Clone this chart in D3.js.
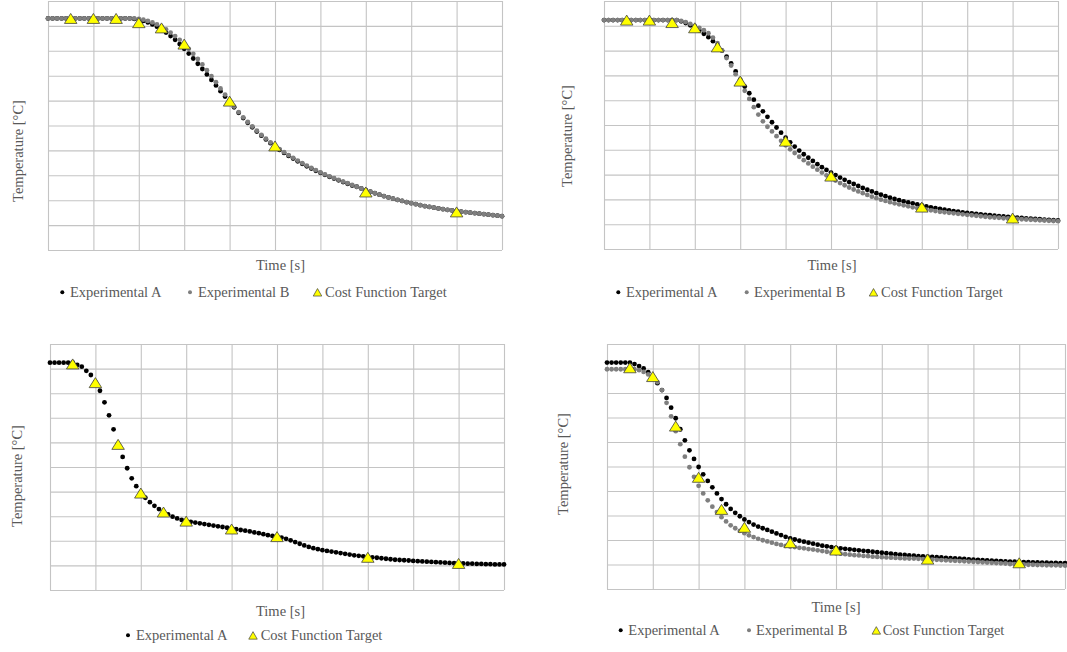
<!DOCTYPE html>
<html>
<head>
<meta charset="utf-8">
<script src="https://cdn.jsdelivr.net/npm/d3@7"></script>
<style>
  body { margin: 0; background: #fff; }
  svg { display: block; }
</style>
</head>
<body>
<svg id="chart" width="1067" height="652"></svg>
<script>
// Sample times (s) of the logged temperatures and of the cost-function targets
const sampleTimes = d3.range(0, 101);
const targetTimes = [5, 10, 15, 20, 25, 30, 40, 50, 70, 90];

// Run 1
const run1A = [930,930,930,930,930,930,930,930,930,930,930,930,930,930,930,930,930,930,930,928,
  925,920,914,906,897,886,873,859,844,827,
  808,789,769,748,727,705,683,661,638,616,
  595,573,551,530,511,493,476,459,444,429,
  415,402,390,378,367,356,346,336,327,318,
  310,302,294,287,280,273,266,259,254,247,
  240,234,228,222,216,211,206,201,197,192,
  188,184,180,176,173,170,167,164,161,159,
  157,154,152,150,148,146,144,142,140,138,136];
const run1B = [930,930,930,930,930,930,930,930,930,930,930,930,930,930,930,930,930,930,930,930,
  928,925,920,914,906,897,886,873,859,844,
  827,808,788,767,745,722,698,674,649,624,
  599,576,554,533,514,496,479,462,447,432,
  418,405,393,381,370,359,349,339,330,321,
  312,304,296,289,282,275,268,261,254,247,
  240,234,228,222,216,211,206,201,197,192,
  188,184,180,176,173,170,167,164,161,159,
  157,154,152,150,148,146,144,142,140,138,136];
const run1Target = [930, 930, 930, 913, 892, 827, 598, 418, 233, 153];

// Run 2
const run2A = [923,923,923,923,923,923,923,923,923,923,923,923,923,923,923,923,923,918,911,902,
  892,881,868,854,838,820,800,776,748,716,
  683,655,628,602,578,555,533,511,490,469,
  449,430,413,397,382,368,355,342,330,319,
  308,298,288,279,270,262,254,246,239,232,
  225,219,213,207,202,197,192,188,184,180,
  176,172,168,165,162,159,156,153,151,148,
  146,144,142,140,138,136,134,132,131,129,
  128,126,125,123,122,121,120,118,117,116,115];
const run2B = [923,923,923,923,923,923,923,923,923,923,923,923,923,923,923,923,923,920,915,908,
  900,892,882,870,852,830,800,770,740,705,
  670,638,605,572,542,515,493,474,455,436,
  418,402,387,372,358,345,332,320,308,297,
  286,276,266,257,248,240,232,225,218,211,
  205,199,194,189,184,180,176,172,168,165,
  162,159,156,153,150,148,146,144,142,140,
  138,136,134,132,130,128,127,126,124,123,
  122,121,120,119,118,117,116,115,114,113,112];
const run2Target = [923, 923, 913, 892, 815, 677, 435, 294, 169, 125];

// Run 3 (single measurement)
const run3A = [924,924,924,924,924,924,915,908,891,874,
  845,810,763,710,653,593,541,495,454,422,
  396,375,357,342,329,317,307,298,291,285,
  280,277,274,271,268,265,262,259,256,253,
  250,247,244,241,238,234,231,227,223,220,
  217,213,208,202,195,188,181,175,170,166,
  162,159,156,153,150,147,144,141,139,137,
  135,133,131,129,127,125,123,122,121,120,
  118,117,116,115,114,113,112,111,110,109,
  108,108,107,107,106,106,105,105,104,104,104];
const run3Target = [919, 843, 592, 394, 317, 280, 248, 217, 133, 108];

// Run 4
const run4A = [924,924,924,924,924,924,918,910,900,885,
  865,840,812,780,740,697,652,607,566,531,
  498,468,441,415,390,367,346,327,311,297,
  284,273,263,255,248,241,234,227,220,213,
  207,202,197,193,189,185,181,177,174,171,
  168,166,164,162,160,158,156,154,152,150,
  148,146,144,142,140,139,137,136,134,133,
  132,131,130,129,127,126,125,124,123,121,
  120,119,118,117,116,115,114,113,112,112,
  111,110,110,109,109,108,108,107,107,106,106];
const run4B = [897,897,897,897,897,897,897,893,886,876,
  862,844,812,760,705,644,591,540,497,458,
  421,390,362,336,314,293,276,260,248,237,
  228,219,212,205,199,194,189,184,180,176,
  173,171,168,166,163,161,158,155,152,149,
  146,144,142,140,138,137,135,134,132,131,
  130,129,128,127,126,125,124,124,123,122,
  121,120,119,118,117,116,115,114,113,112,
  111,110,109,108,107,106,105,104,102,101,
  100,100,99,99,98,98,97,97,97,96,96];
const run4Target = [903, 867, 665, 456, 325, 252, 189, 159, 122, 107];

const seriesNames = ["Experimental A", "Experimental B", "Cost Function Target"];

// Panel layout: plot box [left, top, right, bottom], titles and legend placement
const panels = [
  { a: run1A, b: run1B, target: run1Target, box: [48, 1, 502, 250],
    yTitle: [22.5, 151], xTitle: [280.5, 270.3], legendY: 296.5,
    legend: [[14.3, 22], [142, 150], [269.5, 277]] },
  { a: run2A, b: run2B, target: run2Target, box: [604, 1, 1058, 249],
    yTitle: [572, 136], xTitle: [832, 270.3], legendY: 296.5,
    legend: [[14.3, 22], [142.7, 150], [269.5, 277]] },
  { a: run3A, b: null, target: run3Target, box: [50, 344, 504, 590],
    yTitle: [21.5, 476], xTitle: [280.5, 616.3], legendY: 639.6,
    legend: [[78, 86], null, [203, 210.7]] },
  { a: run4A, b: run4B, target: run4Target, box: [607, 344, 1065, 589],
    yTitle: [568, 464], xTitle: [836, 612.3], legendY: 634.6,
    legend: [[13.7, 21.3], [142, 149], [269.3, 275.7]] }
];

const font = "'Liberation Serif', 'Times New Roman', Times, serif";
const textColor = "#595959";
const colorA = "#000000";
const colorB = "#7f7f7f";
const gridColor = "#c4c4c4";
const dotR = 2.4;
const tri = (w, h) => `M0,${-h / 2}L${w / 2},${h / 2}L${-w / 2},${h / 2}Z`;

const svg = d3.select("#chart");

panels.forEach(p => {
  const [l, t, r, b] = p.box;
  const x = d3.scaleLinear().domain([0, 100]).range([l, r]);
  const y = d3.scaleLinear().domain([0, 1000]).range([b, t]);
  const g = svg.append("g");

  // gridlines drawn through the axes, labels suppressed
  const gx = g.append("g").attr("transform", `translate(0,${b})`)
    .call(d3.axisBottom(x).tickValues(d3.range(0, 101, 10)).tickSize(-(b - t)).tickFormat(""));
  const gy = g.append("g").attr("transform", `translate(${l},0)`)
    .call(d3.axisLeft(y).tickValues(d3.range(0, 1001, 100)).tickSize(-(r - l)).tickFormat(""));
  [gx, gy].forEach(a => {
    a.select(".domain").remove();
    a.selectAll("line").attr("stroke", gridColor).attr("stroke-width", 1.1);
  });

  const drawDots = (vals, color) => g.append("g").selectAll("circle")
    .data(vals).join("circle")
    .attr("cx", (d, i) => x(sampleTimes[i]))
    .attr("cy", d => y(d))
    .attr("r", dotR)
    .attr("fill", color);

  drawDots(p.a, colorA);
  if (p.b) drawDots(p.b, colorB);

  g.append("g").selectAll("path")
    .data(p.target).join("path")
    .attr("d", tri(12.5, 10))
    .attr("transform", (d, i) => `translate(${x(targetTimes[i])},${y(d)})`)
    .attr("fill", "#ffff00")
    .attr("stroke", "#404040")
    .attr("stroke-width", 0.8);

  const label = sel => sel
    .attr("font-family", font)
    .attr("font-size", 14.5)
    .attr("fill", textColor);

  // axis titles
  g.append("text")
    .attr("transform", `translate(${p.yTitle[0]},${p.yTitle[1]}) rotate(-90)`)
    .attr("text-anchor", "middle")
    .call(label)
    .text("Temperature [°C]");
  g.append("text")
    .attr("x", p.xTitle[0]).attr("y", p.xTitle[1])
    .attr("text-anchor", "middle")
    .call(label)
    .text("Time [s]");

  // legend
  const ly = p.legendY;
  p.legend.forEach((item, k) => {
    if (!item) return;
    const [mx, tx] = item;
    if (k < 2) {
      g.append("circle").attr("cx", l + mx).attr("cy", ly - 4.3).attr("r", 2)
        .attr("fill", k === 0 ? colorA : colorB);
    } else {
      g.append("path").attr("d", tri(8.5, 7.5))
        .attr("transform", `translate(${l + mx},${ly - 4.2})`)
        .attr("fill", "#ffff00").attr("stroke", "#404040").attr("stroke-width", 0.7);
    }
    g.append("text").attr("x", l + tx).attr("y", ly)
      .call(label)
      .text(seriesNames[k]);
  });
});
</script>
</body>
</html>
